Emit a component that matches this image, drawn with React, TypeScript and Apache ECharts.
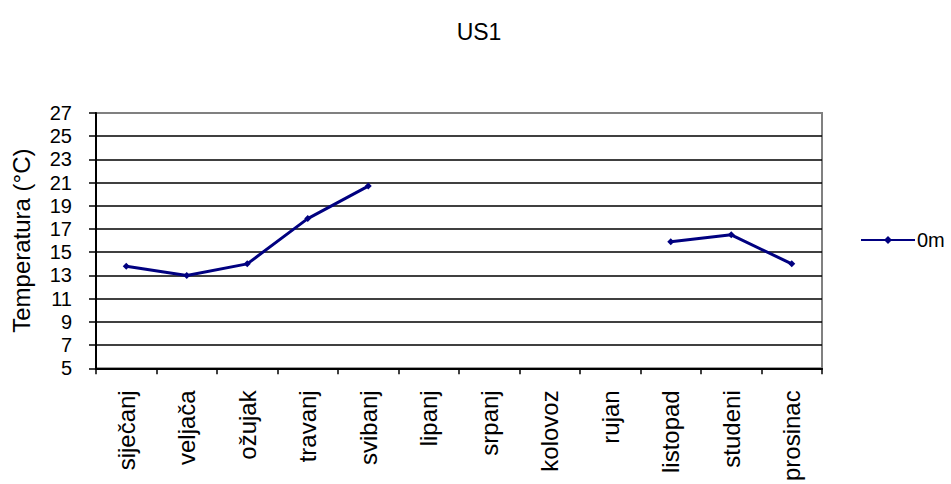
import React, { useEffect, useRef } from "react";
import * as echarts from "echarts";

const categories = [
  "siječanj", "veljača", "ožujak", "travanj", "svibanj", "lipanj",
  "srpanj", "kolovoz", "rujan", "listopad", "studeni", "prosinac",
];
const seriesName = "0m";
const values: (number | null)[] = [13.8, 13.0, 14.0, 17.9, 20.7, null, null, null, null, 15.9, 16.5, 14.0];
const yMin = 5;
const yMax = 27;
const yInterval = 2;
const titleText = "US1";
const yAxisName = "Temperatura (°C)";

const FONT = "'Liberation Sans', Arial, sans-serif";

export default function App() {
  const ref = useRef<HTMLDivElement>(null);
  useEffect(() => {
    document.body.style.margin = "0";
    if (!ref.current) return;
    const chart = echarts.init(ref.current, undefined, { renderer: "svg" });
    chart.setOption({
      animation: false,
      backgroundColor: "#ffffff",
      title: {
        text: titleText,
        left: 474,
        textAlign: "center",
        top: 15,
        textStyle: { fontFamily: FONT, fontSize: 23, fontWeight: "normal", color: "#000" },
      },
      legend: {
        data: [seriesName],
        left: 860,
        top: 230,
        padding: 0,
        itemWidth: 54,
        itemHeight: 10,
        itemGap: 4,
        textStyle: { fontFamily: FONT, fontSize: 20, color: "#000", padding: [0, 0, 0, -3] },
      },
      grid: {
        left: 96,
        right: 129,
        top: 113,
        bottom: 115,
        show: true,
        borderColor: "#808080",
        borderWidth: 2,
        backgroundColor: "transparent",
      },
      xAxis: {
        type: "category",
        data: categories,
        boundaryGap: true,
        axisLine: { show: true, lineStyle: { color: "#000", width: 2 } },
        axisTick: { show: true, length: 6, lineStyle: { color: "#000", width: 1.5 } },
        axisLabel: {
          rotate: 90,
          margin: 22,
          interval: 0,
          fontFamily: FONT,
          fontSize: 24,
          color: "#000",
        },
        splitLine: { show: false },
      },
      yAxis: {
        type: "value",
        min: yMin,
        max: yMax,
        interval: yInterval,
        name: yAxisName,
        nameLocation: "middle",
        nameGap: 63,
        nameTextStyle: { fontFamily: FONT, fontSize: 24, color: "#000" },
        axisLine: { show: true, lineStyle: { color: "#000", width: 2 } },
        axisTick: { show: true, length: 7, lineStyle: { color: "#000", width: 1.5 } },
        axisLabel: { margin: 24, fontFamily: FONT, fontSize: 20, color: "#000" },
        splitLine: { show: true, showMaxLine: false, showMinLine: false, lineStyle: { color: "#000", width: 1.5 } },
      },
      series: [
        {
          name: seriesName,
          type: "line",
          data: values,
          connectNulls: false,
          symbol: "diamond",
          symbolSize: 7,
          showAllSymbol: true,
          lineStyle: { color: "#000080", width: 3 },
          itemStyle: { color: "#000080" },
        },
      ],
    });
    return () => chart.dispose();
  }, []);
  return <div ref={ref} style={{ width: 951, height: 484 }} />;
}
